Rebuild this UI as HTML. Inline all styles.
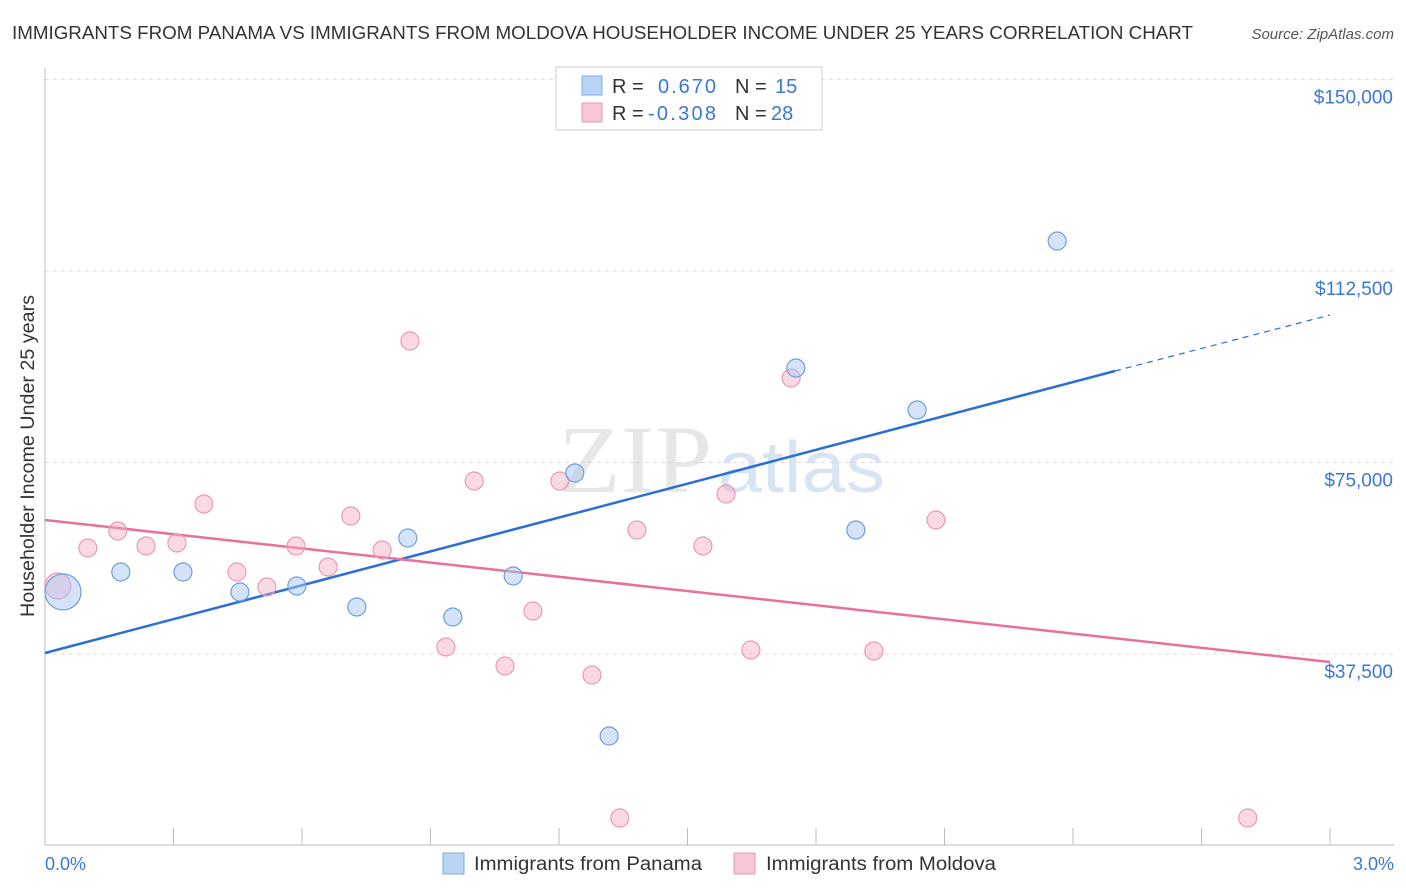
<!DOCTYPE html>
<html><head><meta charset="utf-8"><style>
body{margin:0;background:#fff;font-family:"Liberation Sans",sans-serif;}
svg{display:block}
</style></head><body>
<svg id="chart" width="1406" height="892" xmlns="http://www.w3.org/2000/svg">
<text x="12" y="39" font-size="18" fill="#333" textLength="1181" lengthAdjust="spacingAndGlyphs">IMMIGRANTS FROM PANAMA VS IMMIGRANTS FROM MOLDOVA HOUSEHOLDER INCOME UNDER 25 YEARS CORRELATION CHART</text>
<text x="1394" y="39" font-size="15" fill="#555" font-style="italic" text-anchor="end">Source: ZipAtlas.com</text>
<text x="558" y="492" font-size="96" fill="#d8d8d8" font-family="Liberation Serif,serif" textLength="154" lengthAdjust="spacingAndGlyphs" opacity="0.6">ZIP</text>
<text x="718" y="492" font-size="72" fill="#bcd3ee" textLength="167" lengthAdjust="spacingAndGlyphs" opacity="0.6">atlas</text>
<g id="grid"></g>
<g id="axes"></g>
<g id="lines"></g>
<g id="points"></g>
<text transform="translate(34,456) rotate(-90)" font-size="19" fill="#333" text-anchor="middle" textLength="322" lengthAdjust="spacingAndGlyphs">Householder Income Under 25 years</text>
<text x="45" y="870" font-size="18" fill="#3a78d4">0.0%</text>
<text x="1394" y="870" font-size="18" fill="#3a78d4" text-anchor="end">3.0%</text>
<g>
<rect x="556" y="67" width="266" height="63" fill="#fff" stroke="#ccc"/>
<rect x="582" y="76" width="20" height="19" fill="#b9d4f5" stroke="#7fa9e0"/>
<rect x="582" y="103" width="20" height="19" fill="#f9c6d6" stroke="#e89ab3"/>
<text y="93" font-size="20" fill="#333"><tspan x="612">R =</tspan><tspan fill="#3a78d4" x="658" textLength="58">0.670</tspan><tspan x="735">N =</tspan><tspan fill="#3a78d4" x="775">15</tspan></text>
<text y="120" font-size="20" fill="#333"><tspan x="612">R =</tspan><tspan fill="#3a78d4" x="648" textLength="68">-0.308</tspan><tspan x="735">N =</tspan><tspan fill="#3a78d4" x="771">28</tspan></text>
</g>
<g>
<rect x="443" y="853" width="21" height="21" fill="#b9d4f5" stroke="#7fa9e0"/>
<text x="474" y="870" font-size="19" fill="#333" textLength="228" lengthAdjust="spacingAndGlyphs">Immigrants from Panama</text>
<rect x="734" y="853" width="21" height="21" fill="#f9c6d6" stroke="#e89ab3"/>
<text x="766" y="870" font-size="19" fill="#333" textLength="230" lengthAdjust="spacingAndGlyphs">Immigrants from Moldova</text>
</g>
</svg>
<script>
const yTicks=[37500,75000,112500,150000];
const yTickLabels=["$37,500","$75,000","$112,500","$150,000"];
const panamaX=[0.042,0.177,0.322,0.455,0.588,0.728,0.847,0.952,1.093,1.237,1.317,1.753,1.893,2.036,2.363];
const panamaY=[49640,53556,53556,49640,50815,46703,60215,44745,52774,72943,21442,93504,61781,85280,118373];
const panamaR=[18,9,9,9,9,9,9,9,9,9,9,9,9,9,9];
const moldovaX=[0.030,0.100,0.170,0.236,0.308,0.371,0.448,0.518,0.586,0.661,0.714,0.787,0.852,0.936,1.002,1.074,1.139,1.202,1.277,1.342,1.382,1.536,1.590,1.648,1.742,1.935,2.080,2.808];
const moldovaY=[50815,58257,61585,58648,59236,66873,53556,50620,58648,54536,64523,57865,98791,38870,71377,35150,45920,71377,33387,5385,61781,58648,68831,38283,91546,38087,63739,5385];
const moldovaR=[13,9,9,9,9,9,9,9,9,9,9,9,9,9,9,9,9,9,9,9,9,9,9,9,9,9,9,9];
const panamaTrend=[37695,92917,103883];
const panamaTrendX=[0,2.498,3.0];
const moldovaTrend=[63739,35933];
const moldovaTrendX=[0,3.0];

const NS="http://www.w3.org/2000/svg";
const X=v=>45+v/3*1285;
const Y=v=>845.5-v/37500*191.5;
function mk(t,a,p){const e=document.createElementNS(NS,t);for(const k in a)e.setAttribute(k,a[k]);p.appendChild(e);return e;}
const grid=document.getElementById('grid'),axes=document.getElementById('axes'),lines=document.getElementById('lines'),pts=document.getElementById('points');
yTicks.forEach((v,i)=>{
 const l=mk('line',{x1:45,x2:1394,y1:Y(v),y2:Y(v),stroke:'#ddd','stroke-dasharray':'4,4'},grid);
 
 
 const t=mk('text',{x:1393,y:Y(v)+24,'font-size':19,fill:'#3a78d4','text-anchor':'end'},grid);
 t.textContent=yTickLabels[i];
 
 
});
const ya=mk('line',{x1:45,x2:45,y1:68,y2:845,stroke:'#bbb'},axes);


const xa=mk('line',{x1:45,x2:1394,y1:845,y2:845,stroke:'#bbb'},axes);


for(let i=0;i<=10;i++){
 const tk=mk('line',{x1:X(i*0.3),x2:X(i*0.3),y1:828,y2:845,stroke:'#bbb'},axes);
 
 
}
const bl=mk('line',{x1:X(panamaTrendX[0]),y1:Y(panamaTrend[0]),x2:X(panamaTrendX[1]),y2:Y(panamaTrend[1]),stroke:'#2a6fd6','stroke-width':2.5},lines);


const bd=mk('line',{x1:X(panamaTrendX[1]),y1:Y(panamaTrend[1]),x2:X(panamaTrendX[2]),y2:Y(panamaTrend[2]),stroke:'#2a6fd6','stroke-width':1.2,'stroke-dasharray':'6,5'},lines);


const pl=mk('line',{x1:X(moldovaTrendX[0]),y1:Y(moldovaTrend[0]),x2:X(moldovaTrendX[1]),y2:Y(moldovaTrend[1]),stroke:'#e8709a','stroke-width':2.5},lines);


moldovaX.forEach((v,i)=>{
 const c=mk('circle',{cx:X(v),cy:Y(moldovaY[i]),r:moldovaR[i],fill:'rgba(245,170,195,0.45)',stroke:'#e89ab3','stroke-width':1.2},pts);
 
 
});
panamaX.forEach((v,i)=>{
 const c=mk('circle',{cx:X(v),cy:Y(panamaY[i]),r:panamaR[i],fill:'rgba(170,200,240,0.5)',stroke:'#6f9edc','stroke-width':1.2},pts);
 
 
});
</script>
</body></html>
